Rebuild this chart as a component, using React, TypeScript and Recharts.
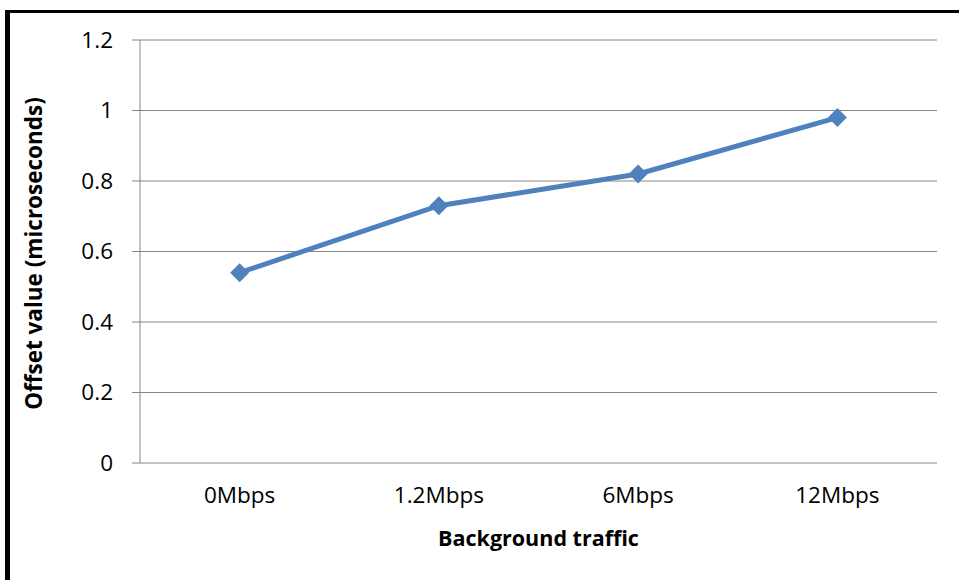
import { LineChart, Line, XAxis, YAxis, CartesianGrid, Label } from 'recharts';

const TRAFFIC = ['0Mbps', '1.2Mbps', '6Mbps', '12Mbps'];
const OFFSET_US = [0.54, 0.73, 0.82, 0.98];
const Y_TICKS = [0, 0.2, 0.4, 0.6, 0.8, 1, 1.2];
// category boundaries, where the small tick marks sit under the axis
const EDGE_TICKS = [0, 1, 2, 3, 4];

const data = TRAFFIC.map((traffic, i) => ({ traffic, offset: OFFSET_US[i] }));

const AXIS_GRAY = '#868686';
const LINE_BLUE = '#4f81bd';
const FONT = '"Open Sans", sans-serif';

const Diamond = ({ cx, cy, index }: any) => {
  if (cx == null || cy == null) return null;
  const r = 9.5;
  return (
    <path
      key={`dot-${index}`}
      d={`M${cx},${cy - r}L${cx + r},${cy}L${cx},${cy + r}L${cx - r},${cy}Z`}
      fill={LINE_BLUE}
    />
  );
};

const YTitle = ({ viewBox }: any) => {
  const x = viewBox.x + 33;
  const y = viewBox.y + viewBox.height / 2 + 2;
  return (
    <text
      x={x}
      y={y}
      transform={`rotate(-90 ${x} ${y})`}
      textAnchor="middle"
      dominantBaseline="central"
      fontFamily={FONT}
      fontWeight={700}
      fontSize={22.5}
      fill="#000"
    >
      Offset value (microseconds)
    </text>
  );
};

export default function App() {
  return (
    <div style={{ position: 'absolute', left: 0, top: 0, width: 959, height: 580, background: '#fff' }}>
      <LineChart
        width={959}
        height={580}
        data={data}
        margin={{ top: 40, right: 22, left: 0, bottom: 0 }}
      >
        <CartesianGrid xAxisId="cat" vertical={false} stroke={AXIS_GRAY} strokeWidth={1} />
        <XAxis
          xAxisId="edges"
          type="number"
          domain={[0, 4]}
          ticks={EDGE_TICKS}
          tick={false}
          tickSize={7}
          height={0}
          stroke={AXIS_GRAY}
          allowDataOverflow
        />
        <XAxis
          xAxisId="cat"
          dataKey="traffic"
          scale="band"
          height={117}
          axisLine={false}
          tickLine={false}
          tickSize={7}
          tickMargin={17}
          tick={{ fill: '#000', fontSize: 22.5, fontFamily: FONT }}
        >
          <Label
            value="Background traffic"
            position="insideBottom"
            offset={34}
            style={{ fill: '#000', fontSize: 21.5, fontWeight: 700, fontFamily: FONT }}
          />
        </XAxis>
        <YAxis
          width={140}
          domain={[0, 1.2]}
          ticks={Y_TICKS}
          interval={0}
          tickSize={8}
          tickMargin={19}
          stroke={AXIS_GRAY}
          tick={{ fill: '#000', fontSize: 22.5, fontFamily: FONT }}
        >
          <Label content={YTitle} />
        </YAxis>
        <Line
          xAxisId="cat"
          dataKey="offset"
          stroke={LINE_BLUE}
          strokeWidth={5}
          dot={Diamond}
          activeDot={false}
          isAnimationActive={false}
        />
      </LineChart>
      {/* black frame along the top and left edges */}
      <div style={{ position: 'absolute', left: 5, top: 10, width: 954, height: 3, background: '#000' }} />
      <div style={{ position: 'absolute', left: 5, top: 10, width: 5, height: 570, background: '#000' }} />
    </div>
  );
}
